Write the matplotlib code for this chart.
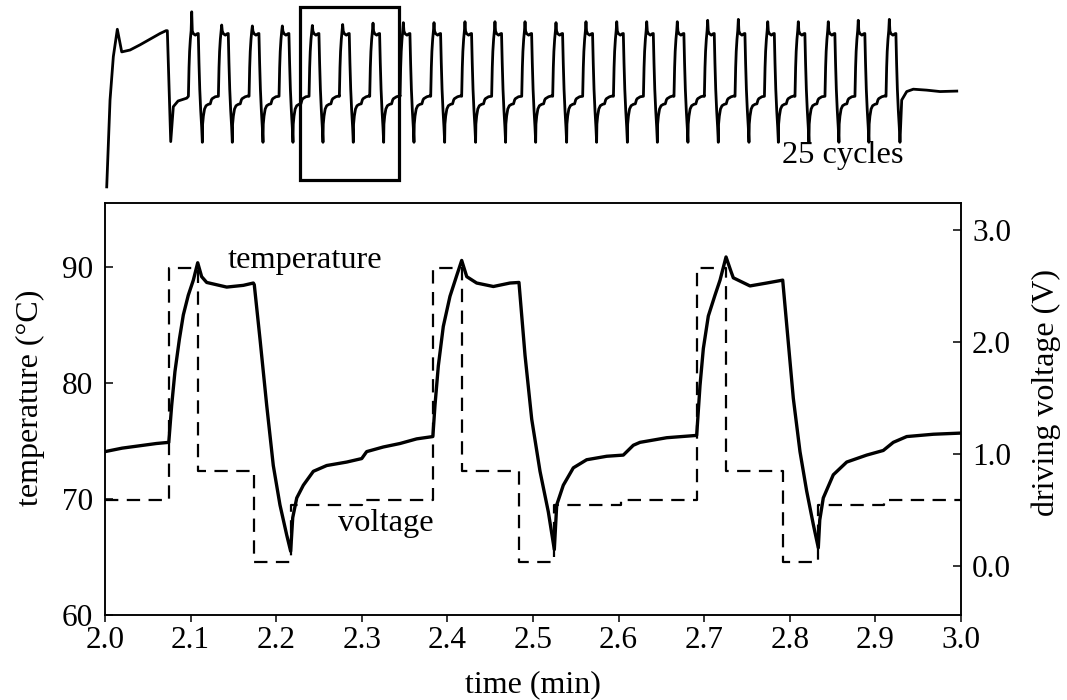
import numpy as np
import matplotlib
matplotlib.use("Agg")
import matplotlib.pyplot as plt
from matplotlib.patches import Rectangle

plt.rcParams['font.family'] = ['Liberation Serif', 'DejaVu Serif']

# temperature trace, 2.0 - 3.0 min (three heating cycles)
time_min = [
    2.000, 2.020, 2.040, 2.060, 2.0745,
    2.0779, 2.0817, 2.0869, 2.0915, 2.0973, 2.1032, 2.1083,
    2.1129, 2.1188, 2.1422, 2.1616, 2.1733, 2.1744,
    2.1811, 2.1889, 2.1966, 2.2044, 2.2123, 2.2169,
    2.2193, 2.2240, 2.2317, 2.2434, 2.2590, 2.2824, 2.2999, 2.3057,
    2.3251, 2.3446, 2.3641, 2.3830,
    2.3855, 2.3894, 2.3952, 2.4030, 2.4109, 2.4167,
    2.4226, 2.4342, 2.4537, 2.4731, 2.4836,
    2.4907, 2.4985, 2.5082, 2.5179, 2.5249,
    2.5277, 2.5354, 2.5471, 2.5627, 2.5861, 2.6055, 2.6172, 2.6250,
    2.6562, 2.6912,
    2.6951, 2.6990, 2.7048, 2.7126, 2.7185, 2.7255,
    2.7313, 2.7340, 2.7535, 2.7730, 2.7917,
    2.8041, 2.8119, 2.8197, 2.8275, 2.8333,
    2.8350, 2.8391, 2.8508, 2.8665, 2.8898, 2.9092, 2.9209, 2.9366,
    2.9677, 3.000,
]
temp_c = [
    74.1, 74.4, 74.6, 74.8, 74.9,
    78.1, 81.0, 83.8, 85.9, 87.6, 88.9, 90.4,
    89.2, 88.7, 88.3, 88.45, 88.65, 88.5,
    83.8, 78.1, 72.9, 69.5, 66.9, 65.5,
    68.4, 70.1, 71.2, 72.4, 72.9, 73.2, 73.5, 74.1,
    74.5, 74.8, 75.2, 75.4,
    78.1, 81.5, 84.9, 87.5, 89.3, 90.6,
    89.2, 88.65, 88.35, 88.65, 88.7,
    82.4, 76.9, 72.4, 68.9, 65.65,
    69.5, 71.2, 72.7, 73.4, 73.7, 73.8, 74.65, 74.9,
    75.3, 75.5,
    79.8, 83.0, 85.8, 87.6, 88.9, 90.9,
    89.65, 89.1, 88.4, 88.65, 88.9,
    78.7, 74.1, 70.7, 67.8, 65.8,
    68.2, 70.1, 72.1, 73.2, 73.8, 74.2, 74.9, 75.4,
    75.6, 75.7,
]

# driving voltage steps (value holds until the next time)
volt_time = [2.0, 2.0751, 2.1083, 2.1745, 2.2169, 2.2999,
             2.3836, 2.4167, 2.4836, 2.5248, 2.6032,
             2.6919, 2.7255, 2.7917, 2.8333, 2.9100, 3.0]
volt_v = [0.59, 2.66, 0.85, 0.03, 0.54, 0.59,
          2.66, 0.85, 0.03, 0.54, 0.59,
          2.66, 0.85, 0.03, 0.54, 0.59, 0.59]

# overview of the whole run: warm-up, 24 pulse peaks, cool-down
warm_time = [0.0164, 0.0500, 0.0836, 0.1243, 0.1690, 0.2535, 0.3552, 0.4570,
             0.5587, 0.6197, 0.6330, 0.6675, 0.6940, 0.7420, 0.8303]
warm_temp = [56.2, 74.6, 83.8, 89.6, 84.8, 85.2, 86.3, 87.5,
             88.7, 89.3, 89.3, 65.8, 73.2, 74.4, 75.0]
peak_time = [0.881, 1.186, 1.498, 1.803, 2.1083, 2.4167, 2.7255, 3.034,
             3.346, 3.661, 3.966, 4.272, 4.587, 4.892, 5.205, 5.510,
             5.821, 6.130, 6.442, 6.741, 7.052, 7.357, 7.662, 7.978]
peak_temp = [93.3, 90.5, 90.3, 90.3, 90.4, 90.6, 90.9, 91.0,
             91.0, 91.2, 91.2, 91.2, 91.0, 91.2, 91.2, 91.2,
             91.2, 91.5, 91.7, 91.2, 91.2, 91.2, 91.5, 91.7]
tail_time = [8.104, 8.155, 8.222, 8.358, 8.494, 8.664]
tail_temp = [74.6, 76.4, 76.9, 76.7, 76.4, 76.5]

fig = plt.figure(figsize=(10.67, 7.0), dpi=100)

# ---- main panel ----
ax = fig.add_axes([105 / 1067, 85 / 700, 856 / 1067, 412.5 / 700])
ax.plot(time_min, temp_c, color='black', lw=2.4, zorder=3)
ax.set_xlim(2.0, 3.0)
ax.set_ylim(60, 95.6)
ax.set_xticks(np.round(np.arange(2.0, 3.01, 0.1), 1))
ax.set_xticklabels(['%.1f' % v for v in np.arange(2.0, 3.01, 0.1)])
ax.set_yticks([60, 70, 80, 90])
ax.tick_params(axis='x', direction='out', length=5, width=1.1, pad=3, labelsize=22.5)
ax.tick_params(axis='y', direction='in', length=6, width=1.1, pad=8.5, labelsize=22.5)
for s in ax.spines.values():
    s.set_linewidth(1.1)

ax2 = ax.twinx()
ax2.plot(volt_time, volt_v, color='black', lw=1.6, drawstyle='steps-post',
         linestyle=(0, (6.0, 3.8)))
ax2.set_ylim(-0.44, 3.245)
ax2.set_yticks([0, 1, 2, 3])
ax2.set_yticklabels(['0.0', '1.0', '2.0', '3.0'])
ax2.tick_params(axis='y', direction='in', length=5.5, width=1.1, pad=8, labelsize=22.5)
for s in ax2.spines.values():
    s.set_linewidth(1.1)

ax.text(2.1437, 89.94, 'temperature', fontsize=23.3, va='baseline', ha='left')
ax.text(2.2722, 67.23, 'voltage', fontsize=23.3, va='baseline', ha='left')

fig.text(533 / 1067, 1 - 692 / 700, 'time (min)', fontsize=23, ha='center', va='baseline')
fig.text(30 / 1067, 1 - 398 / 700, 'temperature (\u00b0C)', fontsize=23,
         rotation=90, ha='center', va='center')
fig.text(1046 / 1067, 1 - 392 / 700, 'driving voltage (V)', fontsize=23,
         rotation=90, ha='center', va='center')

# ---- overview strip ----
t_all = np.array(time_min)
T_all = np.array(temp_c)
sel = (t_all >= 2.383) & (t_all < 2.6919)
cyc_dt = t_all[sel] - 2.4167
cyc_T = T_all[sel]
ipk = np.argmax(cyc_T)

ov_t = list(warm_time)
ov_T = list(warm_temp)
for k, (pk, top) in enumerate(zip(peak_time, peak_temp)):
    if k + 1 < len(peak_time):
        stop = peak_time[k + 1] + cyc_dt[0]
    else:
        stop = pk + 0.109
    seg_T = cyc_T.copy()
    seg_T[ipk] = top
    keep = pk + cyc_dt < stop
    ov_t.extend(pk + cyc_dt[keep])
    ov_T.extend(seg_T[keep])
ov_t.extend(tail_time)
ov_T.extend(tail_temp)

axi = fig.add_axes([100 / 1067, 510 / 700, 860 / 1067, 190 / 700])
axi.plot(ov_t, ov_T, color='black', lw=2.0, solid_joinstyle='round')
axi.set_xlim(-0.052, 8.697)
axi.set_ylim(55.54, 95.8)
axi.axis('off')
axi.add_patch(Rectangle((1.985, 57.7), 1.005, 36.55, fill=False,
                        edgecolor='black', lw=2.3))
axi.text(6.883, 61.26, '25 cycles', fontsize=23.3, va='baseline', ha='left')

fig.savefig('out.png', dpi=100)
